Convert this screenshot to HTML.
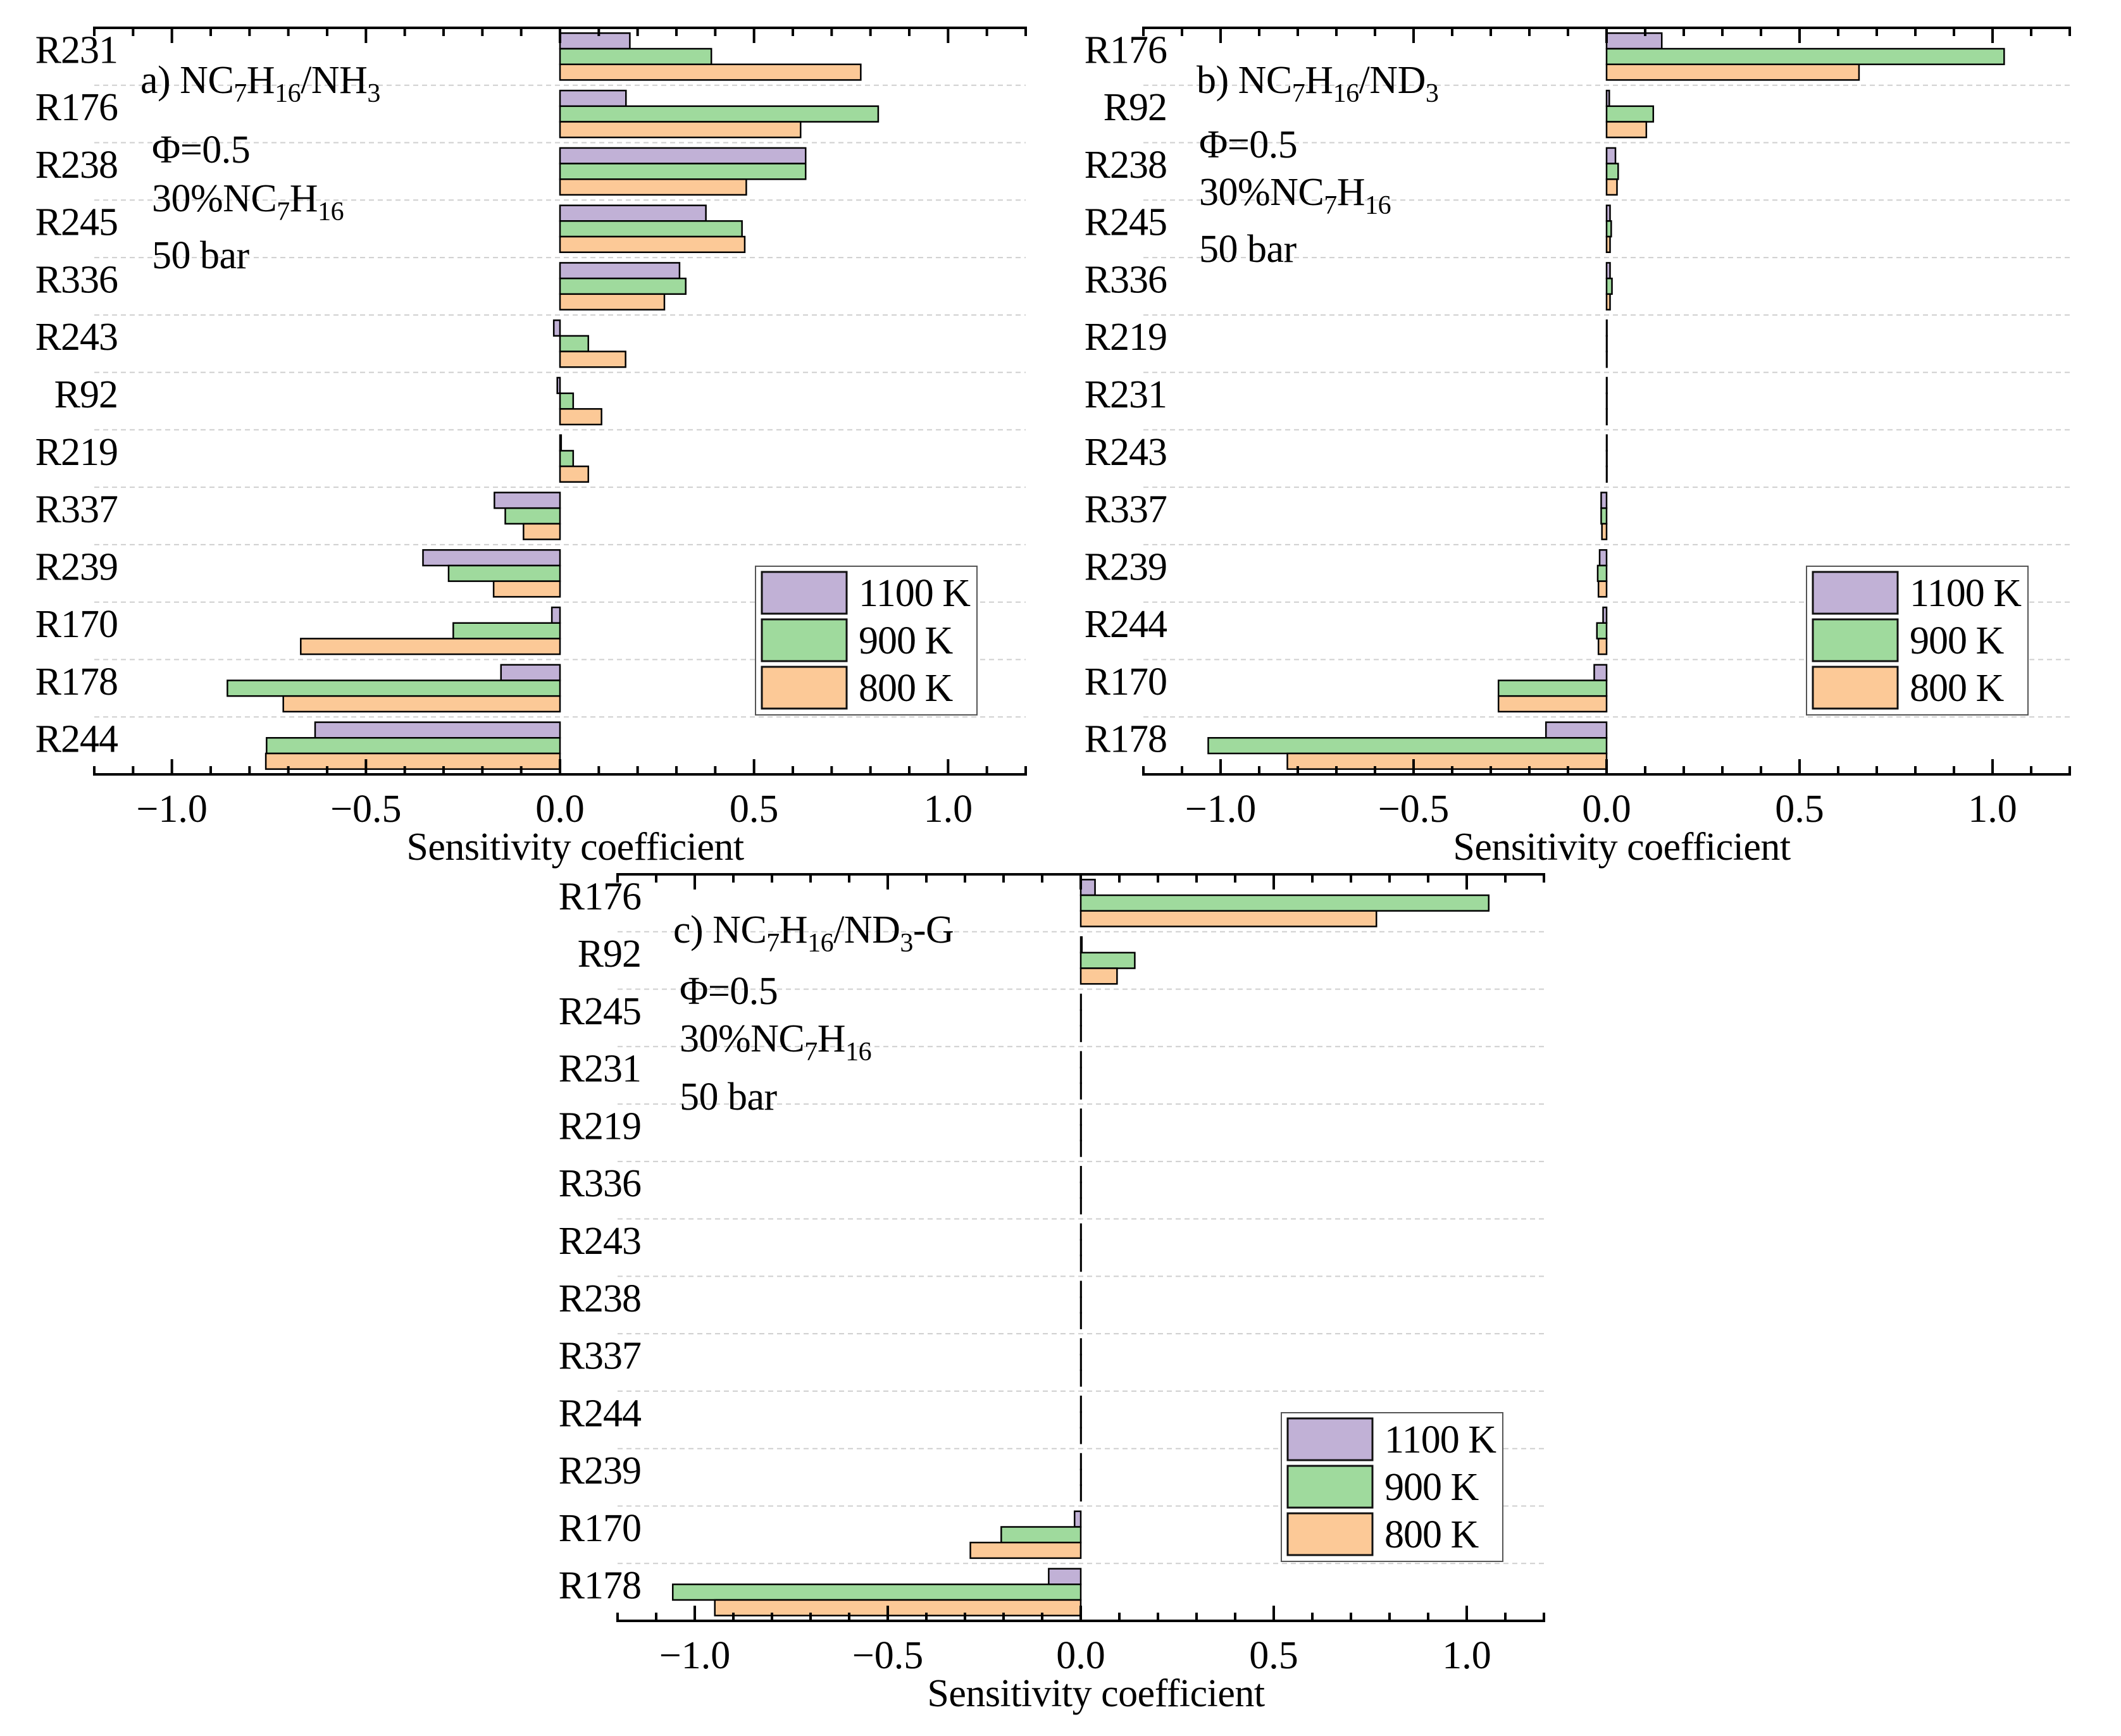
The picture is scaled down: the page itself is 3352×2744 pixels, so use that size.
<!DOCTYPE html>
<html><head><meta charset="utf-8">
<style>
html,body{margin:0;padding:0;background:#fff;}
svg{display:block;font-family:"Liberation Serif","DejaVu Serif",serif;}
</style></head>
<body>
<svg id="fig" width="3352" height="2744" viewBox="0 0 3352 2744" xmlns="http://www.w3.org/2000/svg"></svg>
<script>
// ---------- Data ----------
const seriesNames = ["1100 K", "900 K", "800 K"];
const xTickLabels = ["\u22121.0", "\u22120.5", "0.0", "0.5", "1.0"];
const xTickValues = [-1.0, -0.5, 0.0, 0.5, 1.0];

const catsA = ["R231","R176","R238","R245","R336","R243","R92","R219","R337","R239","R170","R178","R244"];
const a1100 = [0.18,0.17,0.633,0.376,0.308,-0.016,-0.007,0.003,-0.169,-0.353,-0.021,-0.152,-0.631];
const a900  = [0.39,0.82,0.633,0.469,0.324,0.073,0.034,0.034,-0.141,-0.287,-0.275,-0.857,-0.756];
const a800  = [0.775,0.62,0.48,0.476,0.269,0.169,0.107,0.073,-0.094,-0.171,-0.668,-0.713,-0.758];

const catsB = ["R176","R92","R238","R245","R336","R219","R231","R243","R337","R239","R244","R170","R178"];
const b1100 = [0.143,0.007,0.023,0.009,0.009,0.001,0.001,0.001,-0.014,-0.018,-0.009,-0.032,-0.157];
const b900  = [1.03,0.121,0.030,0.012,0.014,0.001,0.001,0.001,-0.014,-0.023,-0.025,-0.28,-1.032];
const b800  = [0.654,0.103,0.027,0.009,0.009,0.001,0.001,0.001,-0.012,-0.021,-0.021,-0.28,-0.827];

const catsC = ["R176","R92","R245","R231","R219","R336","R243","R238","R337","R244","R239","R170","R178"];
const c1100 = [0.037,0.003,0.001,0.001,0.001,0.001,0.001,0.001,0.001,0.001,0.001,-0.016,-0.083];
const c900  = [1.057,0.14,0.001,0.001,0.001,0.001,0.001,0.001,0.001,0.001,0.001,-0.206,-1.057];
const c800  = [0.766,0.094,0.001,0.001,0.001,0.001,0.001,0.001,0.001,0.001,0.001,-0.286,-0.948];

// ---------- Drawing ----------
const NS = "http://www.w3.org/2000/svg";
const svg = document.getElementById("fig");
const colors = ["#c1b1d6", "#9fda9d", "#fcc997"];
const FS = 62;

function mk(tag, attrs, parent) {
  const e = document.createElementNS(NS, tag);
  for (const k in attrs) e.setAttribute(k, attrs[k]);
  (parent || svg).appendChild(e);
  return e;
}

function addSubText(g, x, y, parts, name) {
  const t = mk("text", {x: x, y: y, "font-size": FS, fill: "#000", "letter-spacing": -0.5}, g);
  
  
  parts.forEach(p => {
    const s = mk("tspan", {}, t);
    if (p[1]) { s.setAttribute("font-size", 42); s.setAttribute("dy", 14); }
    else if (p[2]) { s.setAttribute("dy", -14); }
    s.textContent = p[0];
  });
  return t;
}

function drawPanel(cfg) {
  const g = mk("g", {});
  
  
  const L = cfg.left, R = cfg.right, T = cfg.top, B = cfg.top + 1180;
  const x0 = (L + R) / 2, unit = (R - L) / 2.4;
  const xs = v => x0 + v * unit;
  const n = cfg.cats.length, band = (B - T) / n, bh = band * 0.272;
  const yc = i => T + band * (i + 0.5);

  for (let i = 1; i < n; i++) {
    const gl = mk("line", {x1: L, x2: R, y1: T + band * i, y2: T + band * i, stroke: "#cfcfcf", "stroke-width": 2, "stroke-dasharray": "8 6"}, g);
    
    
  }
  const series = [cfg.s1100, cfg.s900, cfg.s800];
  series.forEach((vals, si) => {
    vals.forEach((v, i) => {
      const xa = Math.min(xs(0), xs(v)), w = Math.abs(xs(v) - xs(0));
      const r = mk("rect", {x: xa, y: yc(i) + (si - 1.5) * bh, width: w, height: bh, fill: colors[si], stroke: "#000", "stroke-width": 2.5}, g);
      
      
    });
  });
  cfg.cats.forEach((c, i) => {
    const t = mk("text", {x: L + 37, y: yc(i) + 10, "font-size": FS, "text-anchor": "end", fill: "#000", "letter-spacing": -1}, g);
    
    
    t.textContent = c;
  });
  [T, B].forEach((yy, k) => {
    const ax = mk("line", {x1: L - 2, x2: R + 2, y1: yy, y2: yy, stroke: "#000", "stroke-width": 4}, g);
    
    
    const dir = k ? -1 : 1;
    for (let m = -12; m <= 12; m++) {
      const major = m % 5 === 0;
      const len = major ? 24 : 13;
      const tk = mk("line", {x1: xs(m / 10), x2: xs(m / 10), y1: yy, y2: yy + dir * len, stroke: "#000", "stroke-width": 4}, g);
      
      
    }
  });
  xTickValues.forEach((v, i) => {
    const t = mk("text", {x: xs(v), y: B + 75, "font-size": FS, "text-anchor": "middle", fill: "#000"}, g);
    
    
    t.textContent = xTickLabels[i];
  });
  const xt = mk("text", {x: x0 + 24, y: B + 135, "font-size": FS, "text-anchor": "middle", fill: "#000", "letter-spacing": -0.5}, g);
  
  
  xt.textContent = "Sensitivity coefficient";

  addSubText(g, L + cfg.tx, T + cfg.ty[0], cfg.title, 'panel-title');
  addSubText(g, L + cfg.tx2, T + cfg.ty[1], [["\u03A6=0.5"]], 'equivalence-ratio-note');
  addSubText(g, L + cfg.tx2, T + cfg.ty[2], [["30%NC"], ["7", 1], ["H", 0, 1], ["16", 1]], 'fuel-fraction-note');
  addSubText(g, L + cfg.tx2, T + cfg.ty[3], [["50 bar"]], 'pressure-note');

  const lg = mk("g", {}, g);
  
  
  const lx = R - cfg.legRight - 350, ly = T + 851;
  mk("rect", {x: lx, y: ly, width: 350, height: 235, fill: "#fff", stroke: "#555", "stroke-width": 2}, lg);
  seriesNames.forEach((s, i) => {
    const p = mk("rect", {x: lx + 10, y: ly + 9 + i * 75, width: 134, height: 66, fill: colors[i], stroke: "#111", "stroke-width": 3}, lg);
    
    
    const t = mk("text", {x: lx + 163, y: ly + 63 + i * 75, "font-size": FS, fill: "#000", "letter-spacing": -1}, lg);
    
    
    t.textContent = s;
  });
}

drawPanel({name: "panel-a", left: 149, right: 1621, top: 44, cats: catsA, s1100: a1100, s900: a900, s800: a800,
  tx: 73, tx2: 91, ty: [103, 213, 290, 380], legRight: 77,
  title: [["a) NC"], ["7", 1], ["H", 0, 1], ["16", 1], ["/NH", 0, 1], ["3", 1]]});
drawPanel({name: "panel-b", left: 1807, right: 3271, top: 44, cats: catsB, s1100: b1100, s900: b900, s800: b800,
  tx: 84, tx2: 88, ty: [103, 205, 280, 370], legRight: 66,
  title: [["b) NC"], ["7", 1], ["H", 0, 1], ["16", 1], ["/ND", 0, 1], ["3", 1]]});
drawPanel({name: "panel-c", left: 976, right: 2440, top: 1382, cats: catsC, s1100: c1100, s900: c900, s800: c800,
  tx: 88, tx2: 98, ty: [108, 205, 280, 372], legRight: 65,
  title: [["c) NC"], ["7", 1], ["H", 0, 1], ["16", 1], ["/ND", 0, 1], ["3", 1], ["-G", 0, 1]]});
</script>
</body></html>
